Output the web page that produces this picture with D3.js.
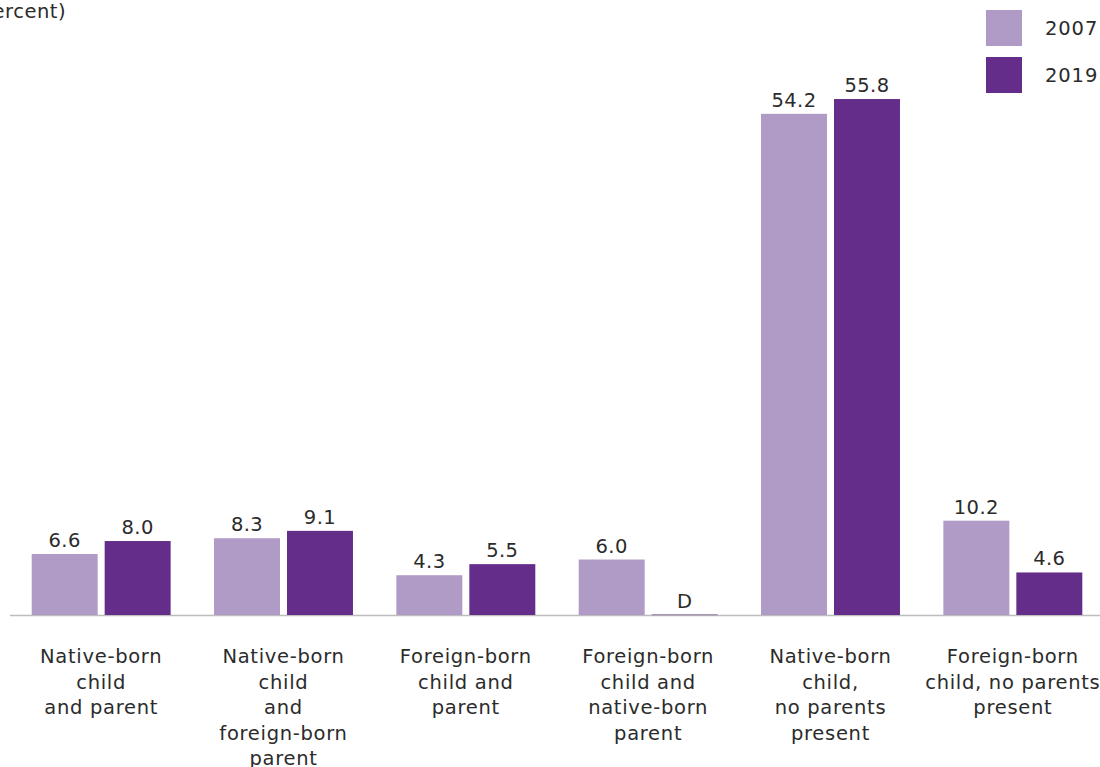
<!DOCTYPE html>
<html>
<head>
<meta charset="utf-8">
<script src="https://cdn.jsdelivr.net/npm/d3@7"></script>
<style>
  html, body { margin: 0; padding: 0; background: #fff; }
  svg { display: block; }
  text { font-family: "DejaVu Sans", sans-serif; fill: #2b2b2b; }
</style>
</head>
<body>
<svg id="chart" width="1100" height="767"></svg>
<script>
// Category labels, one array of lines per group
const categories = [
  "Native-born child and parent",
  "Native-born child and foreign-born parent",
  "Foreign-born child and parent",
  "Foreign-born child and native-born parent",
  "Native-born child, no parents present",
  "Foreign-born child, no parents present"
];
const categoryLines = [
  ["Native-born", "child", "and parent"],
  ["Native-born", "child", "and", "foreign-born", "parent"],
  ["Foreign-born", "child and", "parent"],
  ["Foreign-born", "child and", "native-born", "parent"],
  ["Native-born", "child,", "no parents", "present"],
  ["Foreign-born", "child, no parents", "present"]
];
const years = ["2007", "2019"];
// Percent values; null marks a suppressed estimate (shown as "D")
const values2007 = [6.6, 8.3, 4.3, 6.0, 54.2, 10.2];
const values2019 = [8.0, 9.1, 5.5, null, 55.8, 4.6];
const colors = ["#b09ac6", "#642d8a"];

const svg = d3.select("#chart");
const baseY = 615;

const x0 = d3.scaleBand()
  .domain(categories)
  .range([10, 1104])
  .paddingInner(0.238)
  .paddingOuter(0.119);

const x1 = d3.scaleBand()
  .domain(years)
  .range([0, x0.bandwidth()])
  .paddingInner(0.096);

const y = d3.scaleLinear().domain([0, 60]).range([baseY, 60.2]);
const color = d3.scaleOrdinal().domain(years).range(colors);

const rows = categories.map((c, i) => ({
  cat: c,
  lines: categoryLines[i],
  vals: [
    { year: "2007", v: values2007[i] },
    { year: "2019", v: values2019[i] }
  ]
}));

// Baseline
svg.append("line")
  .attr("x1", 10).attr("x2", 1100)
  .attr("y1", baseY + 0.5).attr("y2", baseY + 0.5)
  .attr("stroke", "#bdbdbd").attr("stroke-width", 1.5);

const groups = svg.selectAll("g.group")
  .data(rows)
  .join("g")
  .attr("class", "group")
  .attr("transform", d => `translate(${x0(d.cat)},0)`);

groups.selectAll("rect")
  .data(d => d.vals)
  .join("rect")
  .attr("x", d => x1(d.year))
  .attr("width", x1.bandwidth())
  .attr("y", d => d.v == null ? baseY - 1 : y(d.v))
  .attr("height", d => d.v == null ? 1.5 : baseY - y(d.v))
  .attr("fill", d => d.v == null ? "#a597b0" : color(d.year));

groups.selectAll("text.value")
  .data(d => d.vals)
  .join("text")
  .attr("class", "value")
  .attr("x", d => x1(d.year) + x1.bandwidth() / 2)
  .attr("y", d => (d.v == null ? y(0) : y(d.v)) - 7)
  .attr("text-anchor", "middle")
  .attr("font-size", 19.5)
  .attr("letter-spacing", 0.4)
  .text(d => d.v == null ? "D" : d.v.toFixed(1));

// Category labels below the axis
groups.append("text")
  .attr("class", "cat")
  .attr("text-anchor", "middle")
  .attr("font-size", 19.5)
  .attr("letter-spacing", 0.7)
  .selectAll("tspan")
  .data(d => d.lines)
  .join("tspan")
  .attr("x", x0.bandwidth() / 2)
  .attr("y", (d, i) => 663 + i * 25.5)
  .text(d => d);

// Unit note
svg.append("text")
  .attr("x", 66).attr("y", 18)
  .attr("text-anchor", "end")
  .attr("font-size", 19.5)
  .attr("letter-spacing", 0.5)
  .text("(percent)");

// Legend
const legend = svg.selectAll("g.legend")
  .data(years)
  .join("g")
  .attr("class", "legend")
  .attr("transform", (d, i) => `translate(986,${10 + i * 47})`);
legend.append("rect")
  .attr("width", 36).attr("height", 36)
  .attr("fill", d => color(d));
legend.append("text")
  .attr("x", 59).attr("y", 25)
  .attr("font-size", 19.5)
  .attr("letter-spacing", 0.9)
  .text(d => d);
</script>
</body>
</html>
